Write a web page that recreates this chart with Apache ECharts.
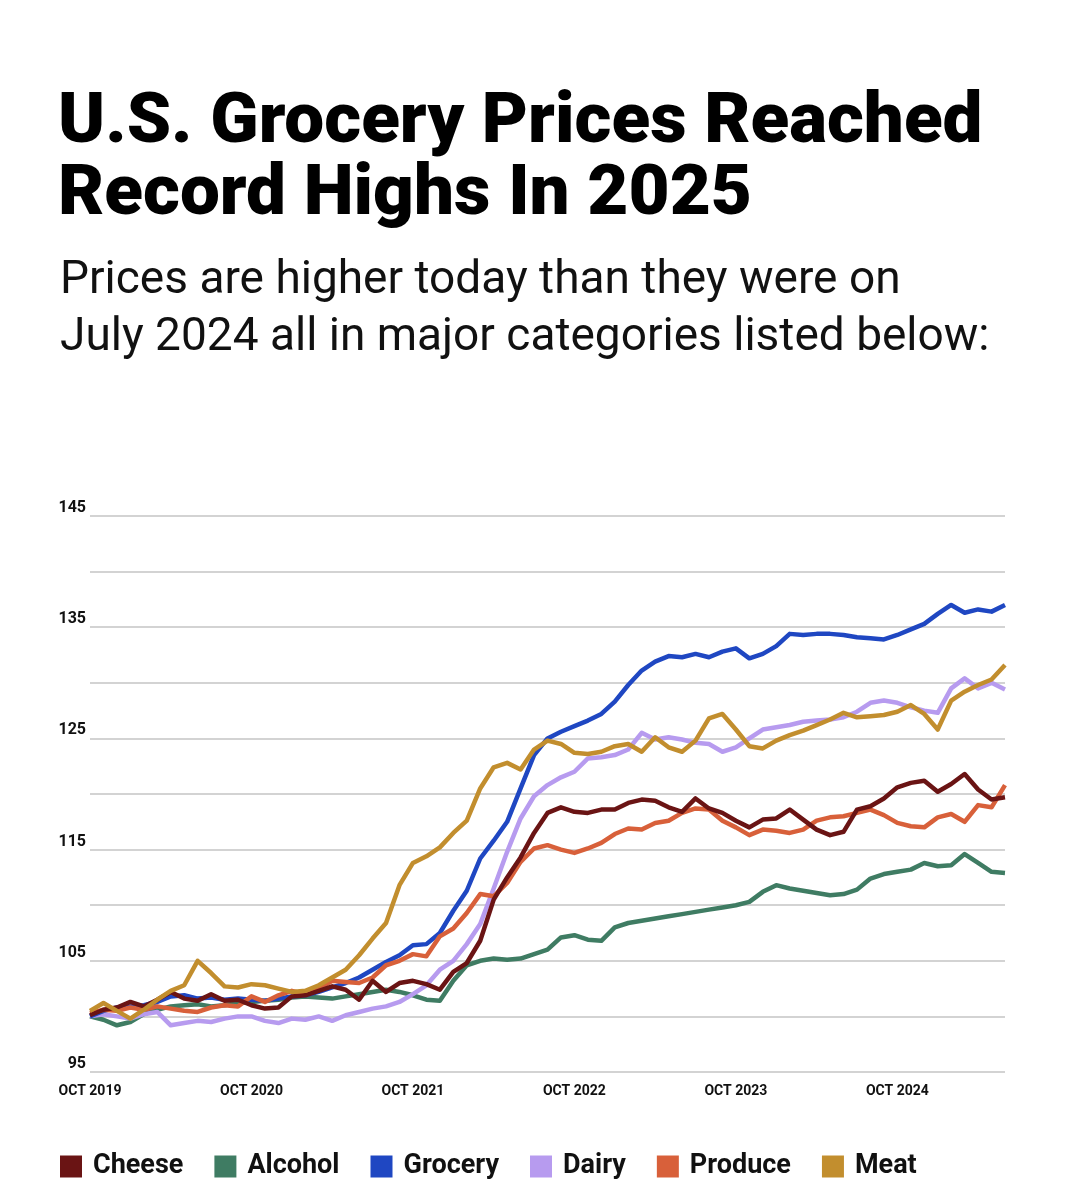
<!DOCTYPE html>
<html>
<head>
<meta charset="utf-8">
<script src="https://cdn.jsdelivr.net/npm/echarts@6/dist/echarts.min.js"></script>
<style>
  html, body { margin: 0; padding: 0; background: #fff; }
  #chart { width: 1065px; height: 1200px; }
</style>
</head>
<body>
<div id="chart"></div>
<script>
// months, Oct 2019 .. Jun 2025
var months = [
  '2019-10','2019-11','2019-12',
  '2020-01','2020-02','2020-03','2020-04','2020-05','2020-06','2020-07','2020-08','2020-09','2020-10','2020-11','2020-12',
  '2021-01','2021-02','2021-03','2021-04','2021-05','2021-06','2021-07','2021-08','2021-09','2021-10','2021-11','2021-12',
  '2022-01','2022-02','2022-03','2022-04','2022-05','2022-06','2022-07','2022-08','2022-09','2022-10','2022-11','2022-12',
  '2023-01','2023-02','2023-03','2023-04','2023-05','2023-06','2023-07','2023-08','2023-09','2023-10','2023-11','2023-12',
  '2024-01','2024-02','2024-03','2024-04','2024-05','2024-06','2024-07','2024-08','2024-09','2024-10','2024-11','2024-12',
  '2025-01','2025-02','2025-03','2025-04','2025-05','2025-06'
];
var xTickLabels = ['OCT 2019', 'OCT 2020', 'OCT 2021', 'OCT 2022', 'OCT 2023', 'OCT 2024'];
var yTickLabels = [95, 105, 115, 125, 135, 145];

var cheese = [
  100.1, 100.6, 100.8, 101.3, 100.9, 101.5, 102.2, 101.6, 101.4, 102.0, 101.4, 101.5,
  101.0, 100.7, 100.8, 101.8, 101.9, 102.3, 102.7, 102.4, 101.5, 103.2, 102.2, 103.0,
  103.2, 102.9, 102.4, 104.0, 104.8, 106.8, 110.5, 112.5, 114.3, 116.5, 118.3, 118.8,
  118.4, 118.3, 118.6, 118.6, 119.2, 119.5, 119.4, 118.8, 118.4, 119.6, 118.7, 118.3,
  117.6, 117.0, 117.7, 117.8, 118.6, 117.7, 116.8, 116.3, 116.6, 118.6, 118.9, 119.6,
  120.6, 121.0, 121.2, 120.2, 120.9, 121.8, 120.4, 119.5, 119.7
];
var alcohol = [
  100.0, 99.7, 99.2, 99.5, 100.2, 100.6, 100.9, 101.0, 101.1, 100.9, 101.0, 101.2,
  101.3, 101.4, 101.5, 101.7, 101.8, 101.7, 101.6, 101.8, 102.0, 102.2, 102.4, 102.2,
  101.9, 101.5, 101.4, 103.2, 104.6, 105.0, 105.2, 105.1, 105.2, 105.6, 106.0, 107.1,
  107.3, 106.9, 106.8, 108.0, 108.4, 108.6, 108.8, 109.0, 109.2, 109.4, 109.6, 109.8,
  110.0, 110.3, 111.2, 111.8, 111.5, 111.3, 111.1, 110.9, 111.0, 111.4, 112.4, 112.8,
  113.0, 113.2, 113.8, 113.5, 113.6, 114.6, 113.8, 113.0, 112.9
];
var grocery = [
  100.0, 100.5, 100.8, 100.9, 101.0, 101.3, 101.8, 101.9, 101.6, 101.7, 101.5, 101.6,
  101.5, 101.4, 101.6, 101.8, 101.9, 102.2, 102.6, 103.0, 103.5, 104.2, 104.9, 105.5,
  106.4, 106.5, 107.5, 109.5, 111.3, 114.2, 115.8, 117.5, 120.5, 123.5, 125.0, 125.6,
  126.1, 126.6, 127.2, 128.3, 129.8, 131.1, 131.9, 132.4, 132.3, 132.6, 132.3, 132.8,
  133.1, 132.2, 132.6, 133.3, 134.4, 134.3, 134.4, 134.4, 134.3, 134.1, 134.0, 133.9,
  134.3, 134.8, 135.3, 136.2, 137.0, 136.3, 136.6, 136.4, 137.0
];
var dairy = [
  100.0, 100.2, 100.0, 99.8, 100.2, 100.4, 99.2, 99.4, 99.6, 99.5, 99.8, 100.0,
  100.0, 99.6, 99.4, 99.8, 99.7, 100.0, 99.6, 100.1, 100.4, 100.7, 100.9, 101.3,
  102.0, 102.8, 104.2, 105.0, 106.5, 108.3, 111.5, 114.8, 117.8, 119.8, 120.8, 121.5,
  122.0, 123.2, 123.3, 123.5, 124.0, 125.5, 124.9, 125.1, 124.9, 124.6, 124.5, 123.8,
  124.2, 125.0, 125.8, 126.0, 126.2, 126.5, 126.6, 126.7, 126.9, 127.4, 128.2, 128.4,
  128.2, 127.8, 127.5, 127.3, 129.5, 130.4, 129.5, 130.0, 129.4
];
var produce = [
  100.3, 100.6, 100.5, 100.8, 100.6, 100.9, 100.7, 100.5, 100.4, 100.8, 101.0, 100.9,
  101.8, 101.3, 101.9, 102.3, 102.0, 102.5, 103.2, 103.1, 103.0, 103.5, 104.6, 105.0,
  105.6, 105.4, 107.2, 107.9, 109.3, 111.0, 110.8, 112.0, 113.9, 115.1, 115.4, 115.0,
  114.7, 115.1, 115.6, 116.4, 116.9, 116.8, 117.4, 117.6, 118.3, 118.7, 118.6, 117.6,
  117.0, 116.3, 116.8, 116.7, 116.5, 116.8, 117.6, 117.9, 118.0, 118.3, 118.6, 118.1,
  117.4, 117.1, 117.0, 117.9, 118.2, 117.5, 119.0, 118.8, 120.8
];
var meat = [
  100.5, 101.2, 100.5, 99.8, 100.6, 101.5, 102.3, 102.8, 105.0, 103.9, 102.7, 102.6,
  102.9, 102.8, 102.5, 102.2, 102.3, 102.8, 103.5, 104.2, 105.5, 107.0, 108.4, 111.8,
  113.8, 114.4, 115.2, 116.5, 117.6, 120.5, 122.4, 122.8, 122.2, 124.0, 124.8, 124.5,
  123.7, 123.6, 123.8, 124.3, 124.5, 123.8, 125.1, 124.2, 123.8, 124.8, 126.8, 127.2,
  125.8, 124.3, 124.1, 124.8, 125.3, 125.7, 126.2, 126.7, 127.3, 126.9, 127.0, 127.1,
  127.4, 128.0, 127.2, 125.8, 128.4, 129.2, 129.8, 130.3, 131.6
];

var names = ['Cheese', 'Alcohol', 'Grocery', 'Dairy', 'Produce', 'Meat'];
var colors = {
  Cheese: '#6a1414',
  Alcohol: '#3f7c63',
  Grocery: '#1f47c2',
  Dairy: '#b79bef',
  Produce: '#d8603a',
  Meat: '#c28e2e'
};
var seriesData = {
  Cheese: cheese, Alcohol: alcohol, Grocery: grocery,
  Dairy: dairy, Produce: produce, Meat: meat
};
// drawing order (last on top)
var drawOrder = ['Alcohol', 'Dairy', 'Grocery', 'Produce', 'Cheese', 'Meat'];

var labelFont = "Roboto, sans-serif";

var chart = echarts.init(document.getElementById('chart'));
var option = {
  backgroundColor: '#fff',
  animation: false,
  title: [{
    text: 'U.S. Grocery Prices Reached\nRecord Highs In 2025',
    left: 53,
    top: 83,
    textStyle: {
      fontFamily: 'Roboto, sans-serif',
      fontWeight: 900,
      fontSize: 71,
      lineHeight: 72,
      color: '#000'
    }
  }, {
    text: 'Prices are higher today than they were on\nJuly 2024 all in major categories listed below:',
    left: 55,
    top: 248,
    textStyle: {
      fontFamily: 'Roboto, sans-serif',
      fontWeight: 'normal',
      fontSize: 46,
      lineHeight: 57,
      color: '#111'
    }
  }],
  legend: {
    data: names,
    left: 55,
    top: 1148,
    icon: 'rect',
    itemWidth: 22,
    itemHeight: 22,
    itemGap: 31,
    textStyle: {
      fontFamily: labelFont,
      fontWeight: 'bold',
      fontSize: 27,
      color: '#111',
      padding: [0, 0, 0, 6]
    }
  },
  grid: {
    left: 90,
    right: 60,
    top: 516,
    bottom: 128
  },
  xAxis: {
    type: 'category',
    data: months,
    boundaryGap: false,
    axisLine: { show: false },
    axisTick: { show: false },
    splitLine: { show: false },
    axisLabel: {
      interval: function (index) { return index % 12 === 0; },
      formatter: function (value, index) { return xTickLabels[Math.round(index / 12)]; },
      fontFamily: labelFont,
      fontWeight: 'bold',
      fontSize: 14,
      color: '#111',
      margin: 12
    }
  },
  yAxis: {
    type: 'value',
    min: 95,
    max: 145,
    interval: 5,
    axisLine: { show: false },
    axisTick: { show: false },
    splitLine: { lineStyle: { color: '#c4c4c4', width: 1.5 } },
    axisLabel: {
      formatter: function (v) { return yTickLabels.indexOf(v) >= 0 ? String(v) : ''; },
      fontFamily: labelFont,
      fontWeight: 'bold',
      fontSize: 16,
      color: '#111',
      margin: 4,
      verticalAlign: 'bottom'
    }
  },
  series: drawOrder.map(function (n) {
    return {
      name: n,
      type: 'line',
      data: seriesData[n],
      symbol: 'none',
      lineStyle: { width: 4.5, color: colors[n], join: 'round' },
      itemStyle: { color: colors[n] }
    };
  })
};
chart.setOption(option);
</script>
</body>
</html>
